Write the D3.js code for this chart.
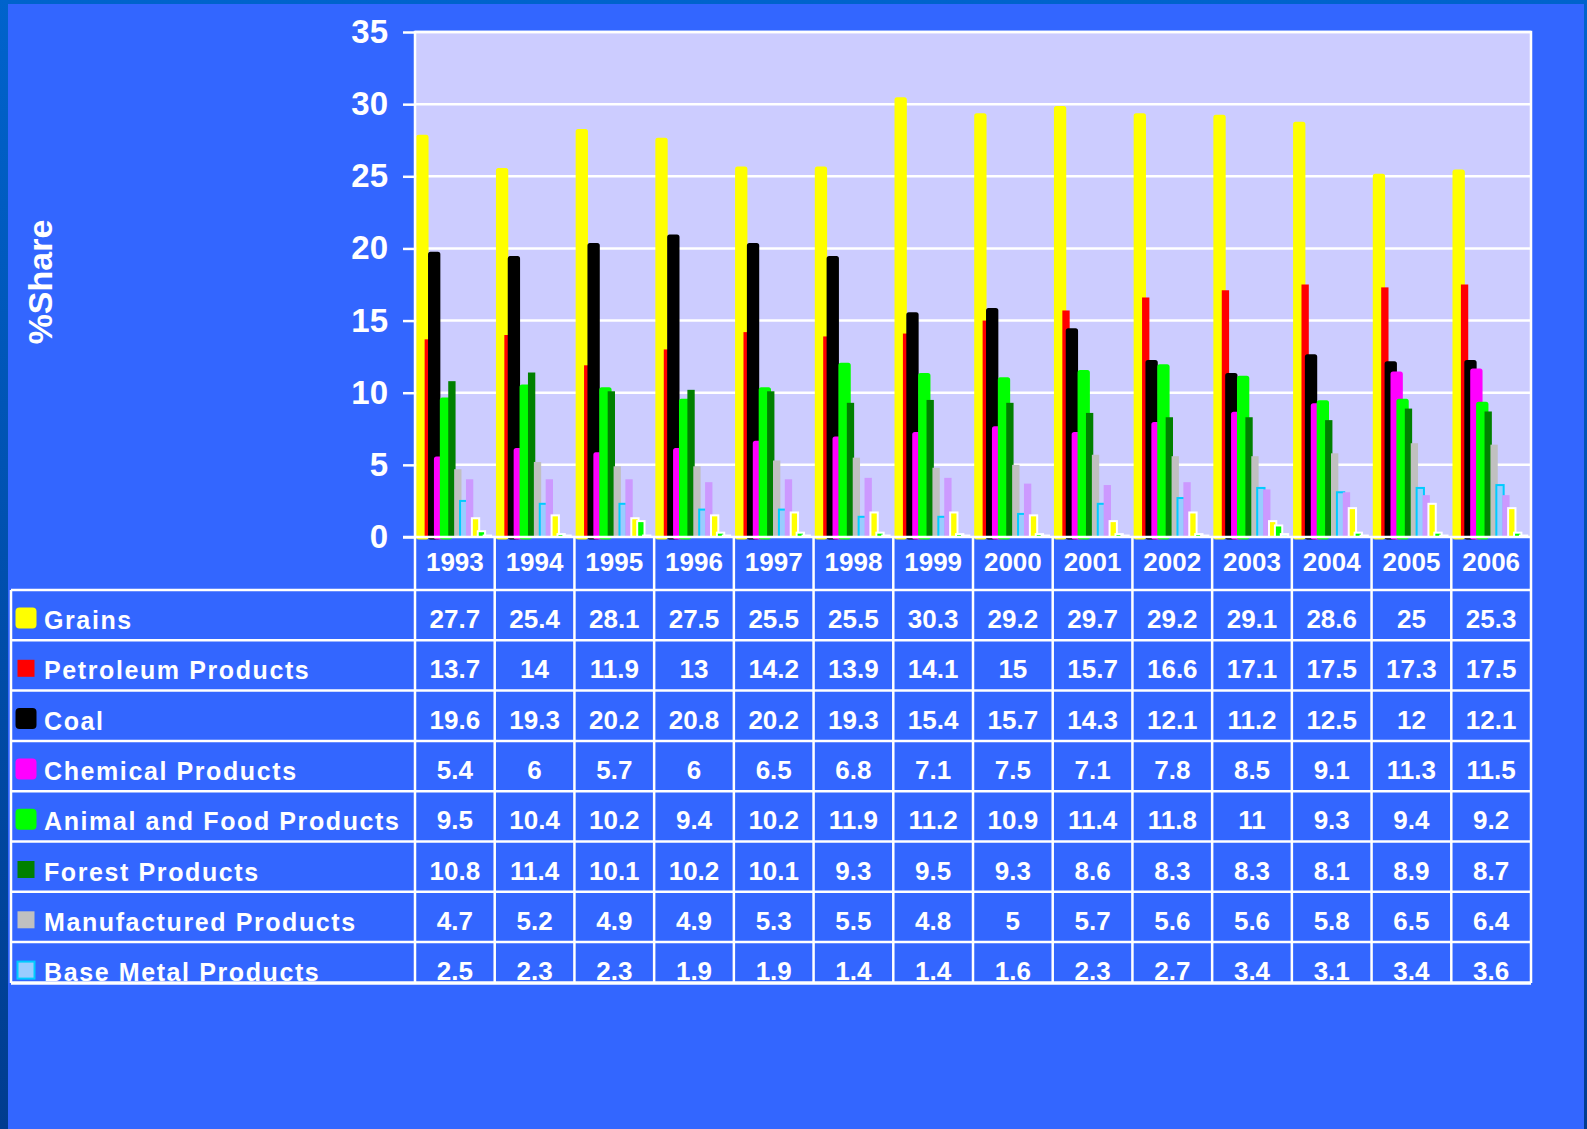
<!DOCTYPE html>
<html>
<head>
<meta charset="utf-8">
<script src="https://cdn.jsdelivr.net/npm/d3@7"></script>
<style>
  html, body { margin: 0; padding: 0; background: #3366FF; }
  svg { display: block; }
  text { font-family: "Liberation Sans", Arial, sans-serif; font-weight: bold; fill: #FFFFFF; }
</style>
</head>
<body>
<svg id="chart" width="1587" height="1129"></svg>
<script>
// Years shown along the category axis and as table columns
const years = ["1993","1994","1995","1996","1997","1998","1999","2000","2001","2002","2003","2004","2005","2006"];

// Percentage share by commodity group (table rows)
const grains       = [27.7, 25.4, 28.1, 27.5, 25.5, 25.5, 30.3, 29.2, 29.7, 29.2, 29.1, 28.6, 25, 25.3];
const petroleum    = [13.7, 14, 11.9, 13, 14.2, 13.9, 14.1, 15, 15.7, 16.6, 17.1, 17.5, 17.3, 17.5];
const coal         = [19.6, 19.3, 20.2, 20.8, 20.2, 19.3, 15.4, 15.7, 14.3, 12.1, 11.2, 12.5, 12, 12.1];
const chemical     = [5.4, 6, 5.7, 6, 6.5, 6.8, 7.1, 7.5, 7.1, 7.8, 8.5, 9.1, 11.3, 11.5];
const animalFood   = [9.5, 10.4, 10.2, 9.4, 10.2, 11.9, 11.2, 10.9, 11.4, 11.8, 11, 9.3, 9.4, 9.2];
const forest       = [10.8, 11.4, 10.1, 10.2, 10.1, 9.3, 9.5, 9.3, 8.6, 8.3, 8.3, 8.1, 8.9, 8.7];
const manufactured = [4.7, 5.2, 4.9, 4.9, 5.3, 5.5, 4.8, 5, 5.7, 5.6, 5.6, 5.8, 6.5, 6.4];
const baseMetal    = [2.5, 2.3, 2.3, 1.9, 1.9, 1.4, 1.4, 1.6, 2.3, 2.7, 3.4, 3.1, 3.4, 3.6];

// Further series plotted but whose table rows fall below the visible table
const otherA = [4.0, 4.0, 4.0, 3.8, 4.0, 4.1, 4.1, 3.7, 3.6, 3.8, 3.3, 3.1, 2.9, 2.9];
const otherB = [1.3, 1.5, 1.3, 1.5, 1.7, 1.7, 1.7, 1.5, 1.1, 1.7, 1.1, 2.0, 2.3, 2.0];
const otherC = [0.4, 0.2, 1.1, 0.3, 0.3, 0.3, 0.2, 0.2, 0.2, 0.2, 0.8, 0.3, 0.3, 0.3];
const otherD = [0.1, 0.1, 0.1, 0.1, 0.1, 0.1, 0.1, 0.1, 0.1, 0.1, 0.2, 0.1, 0.1, 0.1];

const yTicks = [0, 5, 10, 15, 20, 25, 30, 35];

const series = [
  { name: "Grains",                   values: grains,       fill: "#FFFF00", stroke: "#FFFF00", sw: 5, round: true,  inTable: true },
  { name: "Petroleum  Products",      values: petroleum,    fill: "#FF0000", stroke: "none",    sw: 0, round: false, inTable: true },
  { name: "Coal",                     values: coal,         fill: "#000000", stroke: "#000000", sw: 5, round: true,  inTable: true },
  { name: "Chemical Products",        values: chemical,     fill: "#FF00FF", stroke: "#FF00FF", sw: 5, round: true,  inTable: true },
  { name: "Animal and Food Products", values: animalFood,   fill: "#00FF00", stroke: "#00FF00", sw: 5, round: true,  inTable: true },
  { name: "Forest Products",          values: forest,       fill: "#008000", stroke: "none",    sw: 0, round: false, inTable: true },
  { name: "Manufactured Products",    values: manufactured, fill: "#C0C0C0", stroke: "none",    sw: 0, round: false, inTable: true },
  { name: "Base Metal Products",      values: baseMetal,    fill: "#99CCFF", stroke: "#00CCFF", sw: 2, round: false, inTable: true },
  { name: "Other A",                  values: otherA,       fill: "#CC99FF", stroke: "none",    sw: 0, round: false, inTable: false },
  { name: "Other B",                  values: otherB,       fill: "#FFFF00", stroke: "#FFFFFF", sw: 2, round: false, inTable: false },
  { name: "Other C",                  values: otherC,       fill: "#00FF00", stroke: "#FFFFFF", sw: 2, round: false, inTable: false },
  { name: "Other D",                  values: otherD,       fill: "#CCFFFF", stroke: "#FFFFFF", sw: 2, round: false, inTable: false }
];

const W = 1587, H = 1129;
const plot = { left: 415, right: 1531, top: 32, bottom: 537 };
const svg = d3.select("#chart");

// Slide background with darker frame on the edges
const defs = svg.append("defs");
const edge = defs.append("linearGradient").attr("id", "edge").attr("x1", 0).attr("y1", 0).attr("x2", 0).attr("y2", 1);
edge.append("stop").attr("offset", "0%").attr("stop-color", "#0063CC");
edge.append("stop").attr("offset", "100%").attr("stop-color", "#003C8F");
svg.append("rect").attr("width", W).attr("height", H).attr("fill", "url(#edge)");
svg.append("rect").attr("x", 8).attr("y", 4).attr("width", 1576).attr("height", H - 4).attr("fill", "#3366FF");

// Scales
const x0 = d3.scaleBand().domain(years).range([plot.left, plot.right]).paddingInner(0).paddingOuter(0);
const x1 = d3.scaleBand().domain(series.map(d => d.name)).range([0, x0.bandwidth()]).paddingInner(0).paddingOuter(0.75);
const y = d3.scaleLinear().domain([0, 35]).range([plot.bottom, plot.top]);
const barW = x1.step() * 1.24;

// Plot area
svg.append("rect")
  .attr("x", plot.left).attr("y", plot.top)
  .attr("width", plot.right - plot.left).attr("height", plot.bottom - plot.top)
  .attr("fill", "#CCCCFF");

svg.append("g").selectAll("line")
  .data(yTicks.filter(t => t > 0))
  .join("line")
  .attr("x1", plot.left).attr("x2", plot.right)
  .attr("y1", d => y(d)).attr("y2", d => y(d))
  .attr("stroke", "#FFFFFF").attr("stroke-width", 2.5);

// Bars, drawn series by series so later series sit in front
const bars = svg.append("g");
series.forEach(s => {
  bars.append("g").selectAll("rect")
    .data(s.values.map((v, j) => ({ v, year: years[j] })))
    .join("rect")
    .attr("x", d => x0(d.year) + x1(s.name) + x1.bandwidth() / 2 - barW / 2)
    .attr("y", d => y(d.v))
    .attr("width", barW)
    .attr("height", d => y(0) - y(d.v))
    .attr("fill", s.fill)
    .attr("stroke", s.stroke)
    .attr("stroke-width", s.sw)
    .attr("stroke-linejoin", s.round ? "round" : "miter");
});

// Plot border and value axis
svg.append("path")
  .attr("d", `M${plot.left},${plot.bottom}V${plot.top}H${plot.right}V${plot.bottom}`)
  .attr("fill", "none").attr("stroke", "#FFFFFF").attr("stroke-width", 2.5);
svg.append("line")
  .attr("x1", plot.left - 12).attr("x2", plot.right)
  .attr("y1", plot.bottom).attr("y2", plot.bottom)
  .attr("stroke", "#FFFFFF").attr("stroke-width", 2.5);

const yAxis = svg.append("g")
  .attr("transform", `translate(${plot.left},0)`)
  .call(d3.axisLeft(y).tickValues(yTicks).tickSize(12).tickPadding(15));
yAxis.select(".domain").remove();
yAxis.selectAll(".tick line").attr("stroke", "#FFFFFF").attr("stroke-width", 2.5);
yAxis.selectAll(".tick text")
  .attr("fill", "#FFFFFF")
  .style("font-family", "'Liberation Sans', Arial, sans-serif")
  .style("font-weight", "bold")
  .style("font-size", "33px");

svg.append("text")
  .attr("transform", "translate(52,282) rotate(-90)")
  .attr("text-anchor", "middle")
  .style("font-size", "34px")
  .text("%Share");

// Data table below the plot
const tableRows = series.filter(s => s.inTable);
const rowTop = 590, rowH = 50.3, tableBottom = 983;
const rowY = i => rowTop + i * rowH;

const tbl = svg.append("g");
defs.append("clipPath").attr("id", "tclip")
  .append("rect").attr("x", 0).attr("y", plot.bottom).attr("width", W).attr("height", tableBottom - plot.bottom + 2);
const tg = tbl.append("g").attr("clip-path", "url(#tclip)");

// Year header
tg.selectAll(".yr")
  .data(years)
  .join("text")
  .attr("class", "yr")
  .attr("x", d => x0(d) + x0.bandwidth() / 2)
  .attr("y", 570.5)
  .attr("text-anchor", "middle")
  .style("font-size", "26px")
  .text(d => d);

// Row labels with legend keys
tableRows.forEach((s, i) => {
  const top = rowY(i);
  const size = s.round ? 21 : 17;
  const kx = s.round ? 15.5 : 17.5;
  tg.append("rect")
    .attr("x", kx).attr("y", top + 28 - size / 2)
    .attr("width", size).attr("height", size)
    .attr("rx", s.round ? 4 : 0)
    .attr("fill", s.fill)
    .attr("stroke", s.name === "Base Metal Products" ? s.stroke : "none")
    .attr("stroke-width", 2);
  tg.append("text")
    .attr("x", 44).attr("y", top + 39)
    .style("font-size", "25px")
    .style("letter-spacing", "1.6px")
    .text(s.name);
  tg.selectAll(null)
    .data(s.values.map((v, j) => ({ v, year: years[j] })))
    .join("text")
    .attr("x", d => x0(d.year) + x0.bandwidth() / 2)
    .attr("y", top + 38)
    .attr("text-anchor", "middle")
    .style("font-size", "26px")
    .text(d => d.v);
});

// Grid lines of the table
const hLines = d3.range(tableRows.length).map(rowY).concat([tableBottom]);
tbl.selectAll(".hl")
  .data(hLines)
  .join("line")
  .attr("x1", 11).attr("x2", plot.right)
  .attr("y1", d => d).attr("y2", d => d)
  .attr("stroke", "#FFFFFF").attr("stroke-width", d => d === tableBottom ? 3.5 : 2.5);
tbl.selectAll(".vl")
  .data(years.map(d => x0(d)).concat([plot.right]))
  .join("line")
  .attr("x1", d => d).attr("x2", d => d)
  .attr("y1", plot.bottom).attr("y2", tableBottom)
  .attr("stroke", "#FFFFFF").attr("stroke-width", 2.5);
tbl.append("line")
  .attr("x1", 11).attr("x2", 11)
  .attr("y1", rowTop).attr("y2", tableBottom)
  .attr("stroke", "#FFFFFF").attr("stroke-width", 2.5);
</script>
</body>
</html>
